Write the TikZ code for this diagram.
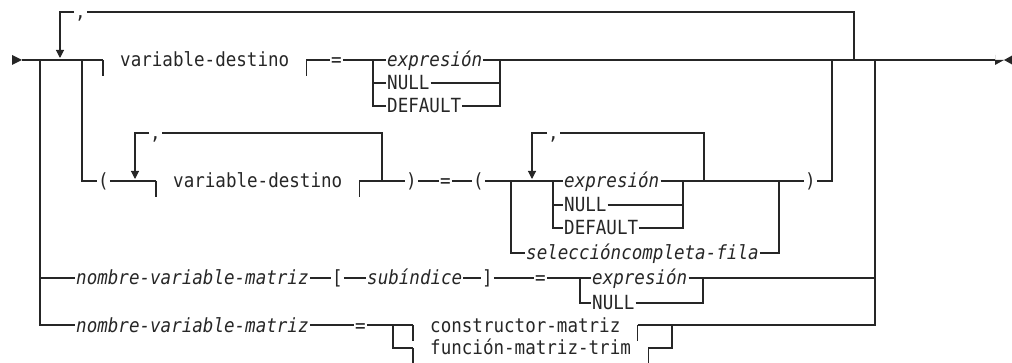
\documentclass[tikz,border=0pt]{standalone}
\usepackage{fontspec}
\newfontfamily\railfont{DejaVu Sans Mono}[FakeStretch=0.9, ItalicFont={DejaVu Sans Mono Oblique}]
\usetikzlibrary{arrows.meta, positioning, calc}
\definecolor{railInk}{HTML}{262626}

\tikzset{
  rail/.style={draw=railInk, line width=1.1pt},
  backarrow/.style={rail, -{Triangle[width=8pt,length=8pt]}, shorten >=2pt},
  kw/.style={font=\railfont\fontsize{19.5}{22}\selectfont, text=railInk,
    inner xsep=1pt, inner ysep=0pt, text height=16pt, text depth=2pt, anchor=west},
  var/.style={kw, font=\railfont\itshape\fontsize{19.5}{22}\selectfont},
}
% bars either side of a fragment name
\newcommand{\fragbars}[1]{%
  \coordinate (#1-in) at ($(#1.west)+(-16,0)$);
  \coordinate (#1-out) at ($(#1.east)+(16,0)$);
  \draw[rail] (#1-in) -- ++(0,16) (#1-out) -- ++(0,16);}

\begin{document}
\begin{tikzpicture}[x=1pt, y=-1pt]
  \useasboundingbox (0,0) rectangle (1012,363);

  % junctions on the main line
  \coordinate (in) at (22,60);
  \coordinate (jA) at (40,60);
  \coordinate (jL) at (60,60);
  \coordinate (jB) at (82,60);
  \coordinate (c1l) at (373,60);
  \coordinate (c1r) at (500,60);
  \coordinate (jC) at (832,60);
  \coordinate (jR) at (854,60);
  \coordinate (jD) at (875,60);
  \coordinate (out) at (995,60);

  % row 1
  \node[kw] (cm1) at (74,12) {,};
  \node[kw] (vd1) at (119,60) {variable-destino};
  \fragbars{vd1}
  \node[kw] (eq1) at (330,60) {=};
  \node[var] (ex1) at (386,60) {expresión};
  \node[kw] (nu1) at (386,83) {NULL};
  \node[kw] (df1) at (386,106) {DEFAULT};

  \fill[railInk] (12,55) -- (in) -- (12,65) -- cycle;
  \draw[rail] (in) -- (vd1-in);
  \draw[rail] (vd1-out) -- (eq1) -- (ex1);
  \draw[rail] (c1l) |- (nu1) (c1l) |- (df1);
  \draw[rail] (nu1) -| (c1r) (df1) -| (c1r);
  \draw[rail] (ex1) -- (out);
  \draw[rail] (jR) |- (cm1);
  \draw[backarrow] (cm1) -| (jL);
  \fill[railInk] (out) -- (1004,60) -- (995,65) -- (995,55) -- cycle;
  \fill[railInk] (1004,60) -- (1013,55) -- (1013,65) -- cycle;

  % row 2
  \coordinate (l2) at (135,181);
  \coordinate (r2) at (382,181);
  \coordinate (s2l) at (511,181);
  \coordinate (l3) at (532,181);
  \coordinate (c2l) at (553,181);
  \coordinate (c2r) at (683,181);
  \coordinate (r3) at (704,181);
  \coordinate (s2r) at (779,181);
  \node[kw] (op1) at (97,181) {(};
  \node[kw] (cm2) at (149,133) {,};
  \node[kw] (vd2) at (172,181) {variable-destino};
  \fragbars{vd2}
  \node[kw] (cp1) at (405,181) {)};
  \node[kw] (eq2) at (439,181) {=};
  \node[kw] (op2) at (472,181) {(};
  \node[kw] (cm3) at (547,133) {,};
  \node[var] (ex2) at (563,181) {expresión};
  \node[kw] (nu2) at (563,205) {NULL};
  \node[kw] (df2) at (563,228) {DEFAULT};
  \node[var] (sel) at (525,253) {seleccióncompleta-fila};
  \node[kw] (cp2) at (804,181) {)};

  \draw[rail] (jB) |- (op1);
  \draw[rail] (op1) -- (vd2-in);
  \draw[rail] (r2) |- (cm2);
  \draw[backarrow] (cm2) -| (l2);
  \draw[rail] (vd2-out) -- (cp1) -- (eq2) -- (op2) -- (ex2);
  \draw[rail] (c2l) |- (nu2) (c2l) |- (df2);
  \draw[rail] (nu2) -| (c2r) (df2) -| (c2r);
  \draw[rail] (ex2) -- (cp2);
  \draw[rail] (r3) |- (cm3);
  \draw[backarrow] (cm3) -| (l3);
  \draw[rail] (s2l) |- (sel);
  \draw[rail] (sel) -| (s2r);
  \draw[rail] (cp2) -| (jC);

  % row 3
  \coordinate (c3l) at (580,278);
  \coordinate (c3r) at (703,278);
  \node[var] (nvm3) at (75,278) {nombre-variable-matriz};
  \node[kw] (lb3) at (331,278) {[};
  \node[var] (sub3) at (366,278) {subíndice};
  \node[kw] (rb3) at (481,278) {]};
  \node[kw] (eq3) at (534,278) {=};
  \node[var] (ex3) at (591,278) {expresión};
  \node[kw] (nu3) at (591,303) {NULL};

  \draw[rail] (nvm3 -| jA) -- (nvm3) -- (lb3) -- (sub3) -- (rb3) -- (eq3) -- (ex3);
  \draw[rail] (c3l) |- (nu3);
  \draw[rail] (nu3) -| (c3r);
  \draw[rail] (ex3) -- (ex3 -| jD);

  % row 4
  \coordinate (c4l) at (393,325);
  \coordinate (c4r) at (672,325);
  \node[var] (nvm4) at (75,325) {nombre-variable-matriz};
  \node[kw] (eq4) at (354,325) {=};
  \node[kw] (cons) at (429,325) {constructor-matriz};
  \fragbars{cons}
  \node[kw] (trim) at (429,348) {función-matriz-trim};
  \fragbars{trim}

  \draw[rail] (jA) |- (nvm4);
  \draw[rail] (nvm4) -- (eq4) -- (cons-in);
  \draw[rail] (c4l) |- (trim-in);
  \draw[rail] (trim-out) -| (c4r);
  \draw[rail] (cons-out) -| (jD);
\end{tikzpicture}
\end{document}
